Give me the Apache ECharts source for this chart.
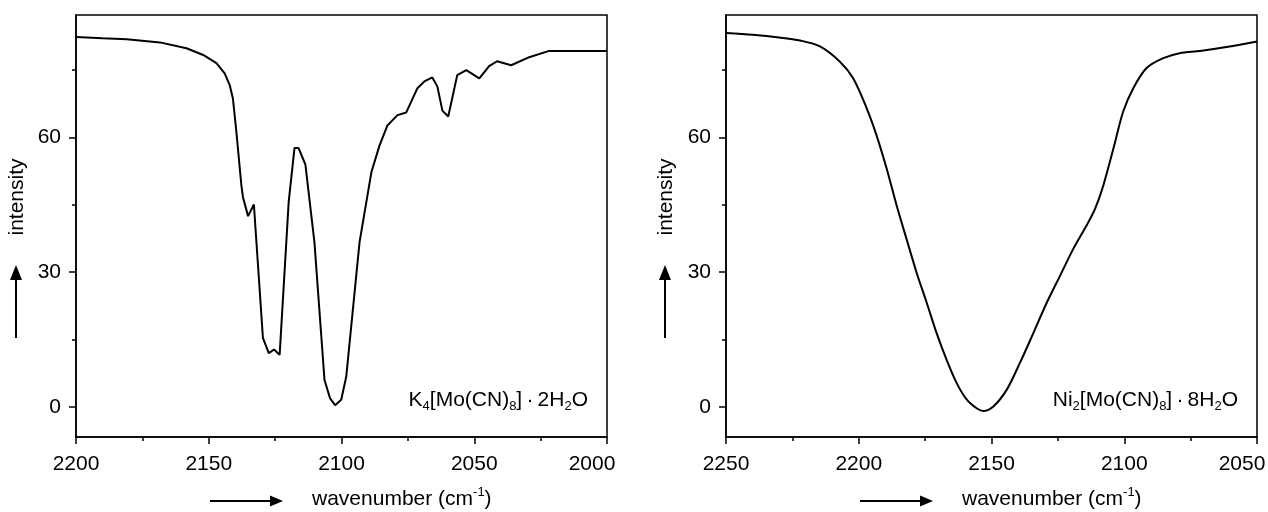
<!DOCTYPE html>
<html>
<head>
<meta charset="utf-8">
<script src="https://cdn.jsdelivr.net/npm/echarts@6/dist/echarts.min.js"></script>
<style>
html,body{margin:0;padding:0;background:#fff;overflow:hidden;width:1268px;height:512px;}
#c{width:1268px;height:512px;}
</style>
</head>
<body>
<div id="c"></div>
<script>
// ---- data (wavenumber cm-1, intensity) ----
const k4Wavenumber = [2200,2190,2180.9,2168.4,2158.4,2152.1,2147.1,2144,2142.1,2140.9,2139.6,2137.7,2137.1,2135.2,2133,2129.6,2127.4,2125.4,2123.3,2119.9,2117.7,2116.2,2113.6,2110.2,2106.4,2104.3,2102.4,2100.1,2098.2,2093.2,2088.7,2085.7,2082.7,2081.2,2078.9,2075.6,2071.4,2068.8,2065.8,2063.9,2062,2059.8,2056.4,2053,2048.1,2044.4,2041.4,2036.1,2029.3,2021.8,2015.4,2000];
const k4Intensity  = [82.4,82.1,81.9,81.2,79.9,78.4,76.6,74.3,71.7,68.7,61.3,49.3,46.7,42.5,45.1,15.4,12.0,12.8,11.6,45.6,57.7,57.7,54.0,36.7,6.0,1.9,0.4,1.6,6.8,36.7,52.4,58.2,62.7,63.6,65.0,65.6,71.0,72.5,73.4,71.4,66.0,64.7,73.9,75.0,73.2,75.9,77.0,76.1,77.9,79.3,79.3,79.3];
const niWavenumber = [2250,2240,2230,2222,2214.6,2207.1,2202.1,2197,2193.3,2189.5,2185.7,2182,2178.2,2174.4,2170.7,2166.9,2163.1,2159.3,2155.6,2153.1,2149.3,2144.3,2139.3,2134.2,2129.2,2124.2,2119.2,2114.2,2111,2107.9,2104.1,2100.4,2096.6,2091.6,2085.3,2079.1,2071.5,2059.1,2050];
const niIntensity  = [83.3,82.9,82.3,81.6,80.3,76.9,73.2,66.5,60.5,53.1,44.8,37.4,29.9,23.2,16.5,10.5,5.3,1.6,-0.3,-0.9,0.1,3.8,9.8,16.5,23.2,29.2,35.2,40.4,44.1,49.3,57.5,65.8,71.0,75.5,77.7,78.8,79.3,80.4,81.4];
const yMajorTicks = [0, 30, 60];
const yMinorTicks = [15, 45, 75];
const yRange = [-6.7, 87.3];
const leftXRange = [2000, 2200];
const rightXRange = [2050, 2250];
const yLabel = 'intensity';
const leftTitle = ['K', '4', '[Mo(CN)', '8', ']\u2009·\u20092H', '2', 'O'];
const rightTitle = ['Ni', '2', '[Mo(CN)', '8', ']\u2009·\u20098H', '2', 'O'];

const FONT = '"Liberation Sans", Arial, Helvetica, sans-serif';
const zip = (a, b) => a.map((v, i) => [v, b[i]]);

function xAxisCfg(grid, range) {
  return {
    type: 'value', gridIndex: grid, min: range[0], max: range[1], interval: 50, inverse: true,
    position: 'bottom',
    axisLine: { show: true, onZero: false, lineStyle: { color: '#000', width: 1.5 } },
    axisTick: { show: true, length: 7, lineStyle: { color: '#000', width: 1.5 } },
    minorTick: { show: true, splitNumber: 2, length: 4, lineStyle: { color: '#000', width: 1.5 } },
    axisLabel: {
      color: '#000', fontSize: 21, fontFamily: FONT, margin: 17, hideOverlap: false,
      formatter: v => (v === range[0] ? '{last|' + v + '}' : String(v)),
      rich: { last: { color: '#000', fontSize: 21, fontFamily: FONT, padding: [0, 30, 0, 0] } }
    },
    splitLine: { show: false }, minorSplitLine: { show: false }
  };
}
function yAxisMajor(grid) {
  return {
    type: 'value', gridIndex: grid, min: yRange[0], max: yRange[1], position: 'left',
    axisLine: { show: true, onZero: false, lineStyle: { color: '#000', width: 1.5 } },
    axisTick: { show: true, length: 7, customValues: yMajorTicks, lineStyle: { color: '#000', width: 1.5 } },
    axisLabel: { show: true, customValues: yMajorTicks, color: '#000', fontSize: 21, fontFamily: FONT, margin: 15, formatter: v => String(v) },
    splitLine: { show: false }
  };
}
function yAxisMinor(grid) {
  return {
    type: 'value', gridIndex: grid, min: yRange[0], max: yRange[1], position: 'left', offset: 0,
    axisLine: { show: false },
    axisTick: { show: true, length: 4, customValues: yMinorTicks, lineStyle: { color: '#000', width: 1.5 } },
    axisLabel: { show: false },
    splitLine: { show: false }
  };
}

function richTitle(parts) {
  let s = '';
  parts.forEach((p, i) => { s += (i % 2 === 1) ? '{sub|' + p + '}' : '{n|' + p + '}'; });
  return s;
}
const richStyles = {
  n: { fontSize: 21, fontFamily: FONT, fill: '#000', lineHeight: 26 },
  sub: { fontSize: 13, fontFamily: FONT, fill: '#000', lineHeight: 13, verticalAlign: 'bottom' },
  sup: { fontSize: 13, fontFamily: FONT, fill: '#000', lineHeight: 13, verticalAlign: 'top' }
};

function yArrow(x) {
  return [
    { type: 'line', shape: { x1: x, y1: 278, x2: x, y2: 338 }, style: { stroke: '#000', lineWidth: 2 } },
    { type: 'polygon', shape: { points: [[x, 265], [x - 6, 280], [x + 6, 280]] }, style: { fill: '#000' } },
    { type: 'text', x: x + 1, y: 197, rotation: Math.PI / 2,
      style: { text: yLabel, x: 0, y: 0, align: 'center', verticalAlign: 'middle', fontSize: 21, fontFamily: FONT, fill: '#000' } }
  ];
}
function xArrow(x0) {
  return [
    { type: 'line', shape: { x1: x0, y1: 501, x2: x0 + 62, y2: 501 }, style: { stroke: '#000', lineWidth: 2 } },
    { type: 'polygon', shape: { points: [[x0 + 73, 501], [x0 + 60, 495.5], [x0 + 60, 506.5]] }, style: { fill: '#000' } },
    { type: 'text', x: x0 + 102, y: 499,
      style: { text: '{n|wavenumber (cm}{sup|-1}{n|)}', rich: richStyles, x: 0, y: 0, align: 'left', verticalAlign: 'middle', fontSize: 21, fontFamily: FONT, fill: '#000' } }
  ];
}

const gridBase = { top: 15, bottom: 75, show: true, borderColor: '#000', borderWidth: 1.5, backgroundColor: 'transparent', containLabel: false, outerBoundsMode: 'none' };

const chart = echarts.init(document.getElementById('c'), null, { renderer: 'canvas', width: 1268, height: 512 });
chart.setOption({
  backgroundColor: '#fff',
  animation: false,
  grid: [
    Object.assign({ left: 76, right: 661 }, gridBase),
    Object.assign({ left: 726, right: 11 }, gridBase)
  ],
  xAxis: [xAxisCfg(0, leftXRange), xAxisCfg(1, rightXRange)],
  yAxis: [yAxisMajor(0), yAxisMinor(0), yAxisMajor(1), yAxisMinor(1)],
  series: [
    { type: 'line', xAxisIndex: 0, yAxisIndex: 0, data: zip(k4Wavenumber, k4Intensity), showSymbol: false, smooth: false,
      lineStyle: { color: '#000', width: 2 }, silent: true },
    { type: 'line', xAxisIndex: 1, yAxisIndex: 2, data: zip(niWavenumber, niIntensity), showSymbol: false, smooth: 0.3,
      lineStyle: { color: '#000', width: 2 }, silent: true }
  ],
  graphic: [
    ...yArrow(16), ...yArrow(665),
    ...xArrow(210), ...xArrow(860),
    { type: 'text', x: 588, y: 400, style: { text: richTitle(leftTitle), rich: richStyles, x: 0, y: 0, align: 'right', verticalAlign: 'middle', fontSize: 21, fontFamily: FONT, fill: '#000' } },
    { type: 'text', x: 1238, y: 400, style: { text: richTitle(rightTitle), rich: richStyles, x: 0, y: 0, align: 'right', verticalAlign: 'middle', fontSize: 21, fontFamily: FONT, fill: '#000' } }
  ]
});
</script>
</body>
</html>
